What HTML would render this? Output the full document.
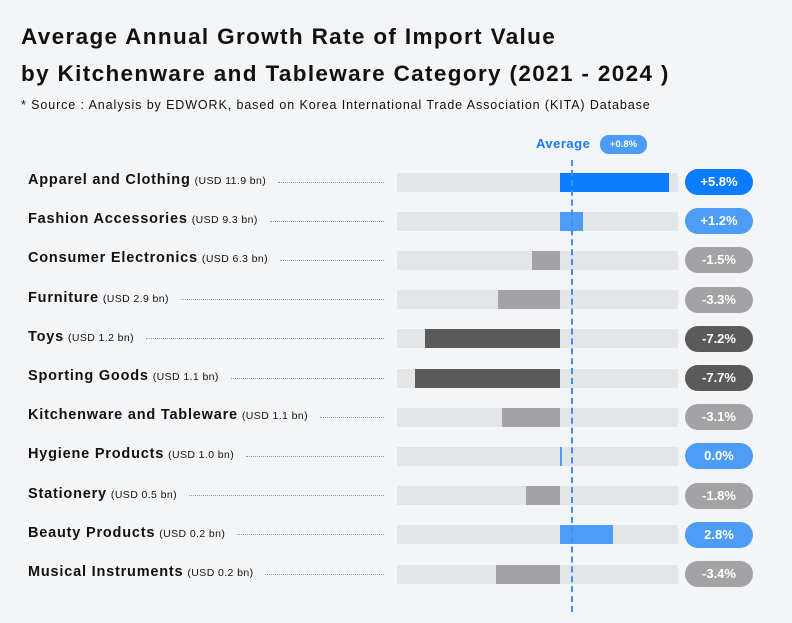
<!DOCTYPE html>
<html><head><meta charset="utf-8"><style>
body{margin:0;width:792px;height:623px;background:#f4f5f7;font-family:"Liberation Sans",sans-serif;position:relative;overflow:hidden}
.t{position:absolute;left:21px;font-size:22.5px;font-weight:bold;color:#111;white-space:nowrap;letter-spacing:1.35px}
.src{position:absolute;left:21px;top:98px;font-size:12.5px;color:#111;letter-spacing:0.9px;white-space:nowrap}
.lab{position:absolute;left:28px;font-size:14.5px;font-weight:bold;color:#111;white-space:nowrap;display:flex;align-items:baseline;width:356px;letter-spacing:0.8px}
.lab small{font-size:10.5px;font-weight:normal;margin-left:4px;letter-spacing:0.4px}
.lab i{flex:1;border-bottom:1.5px dotted #999;margin-left:12px;height:0;align-self:center;margin-top:4px}
.trk{position:absolute;left:397px;width:281px;height:19px;background:#e4e5e7}
.bar{position:absolute;height:19px}
.pill{position:absolute;left:685px;width:68px;height:26px;border-radius:13px;color:#fff;font-weight:bold;font-size:13px;text-align:center;line-height:26px}
</style></head><body>
<div class="t" style="top:24px">Average Annual Growth Rate of Import Value</div>
<div class="t" style="top:61px">by Kitchenware and Tableware Category (2021 - 2024 )</div>
<div class="src">* Source : Analysis by EDWORK, based on Korea International Trade Association (KITA) Database</div>
<div style="position:absolute;left:536px;top:136px;color:#1a7cf5;font-weight:bold;font-size:13px;letter-spacing:0.5px">Average</div>
<div style="position:absolute;left:600px;top:135px;width:47px;height:19px;border-radius:9px;background:#4d9cf5;color:#fff;font-size:9.5px;font-weight:bold;text-align:center;line-height:19px">+0.8%</div>
<div id="rows"></div>
<div style="position:absolute;left:571px;top:160px;height:452px;border-left:2px dashed #3d8ef5;z-index:5"></div>
<script>
var d=[["Apparel and Clothing","(USD 11.9 bn)",5.8,"+5.8%","#0a7cff"],
["Fashion Accessories","(USD 9.3 bn)",1.2,"+1.2%","#4d9cf5"],
["Consumer Electronics","(USD 6.3 bn)",-1.5,"-1.5%","#a3a3a6"],
["Furniture","(USD 2.9 bn)",-3.3,"-3.3%","#a3a3a6"],
["Toys","(USD 1.2 bn)",-7.2,"-7.2%","#5a5a5a"],
["Sporting Goods","(USD 1.1 bn)",-7.7,"-7.7%","#5a5a5a"],
["Kitchenware and Tableware","(USD 1.1 bn)",-3.1,"-3.1%","#a3a3a6"],
["Hygiene Products","(USD 1.0 bn)",0.1,"0.0%","#4d9cf5"],
["Stationery","(USD 0.5 bn)",-1.8,"-1.8%","#a3a3a6"],
["Beauty Products","(USD 0.2 bn)",2.8,"2.8%","#4d9cf5"],
["Musical Instruments","(USD 0.2 bn)",-3.4,"-3.4%","#a3a3a6"]];
var h="";d.forEach(function(r,i){var c=182+i*39.2;var w=Math.abs(r[2])*18.8;var l=r[2]>=0?560:560-w;
h+='<div class="lab" style="top:'+(c-10)+'px">'+r[0]+'<small>'+r[1]+'</small><i></i></div>';
h+='<div class="trk" style="top:'+(c-9.5)+'px"></div><div class="bar" style="top:'+(c-9.5)+'px;left:'+l+'px;width:'+Math.max(w,2)+'px;background:'+r[4]+'"></div>';
h+='<div class="pill" style="top:'+(c-13)+'px;background:'+r[4]+'">'+r[3]+'</div>';});
document.getElementById("rows").innerHTML=h;
</script>
</body></html>
